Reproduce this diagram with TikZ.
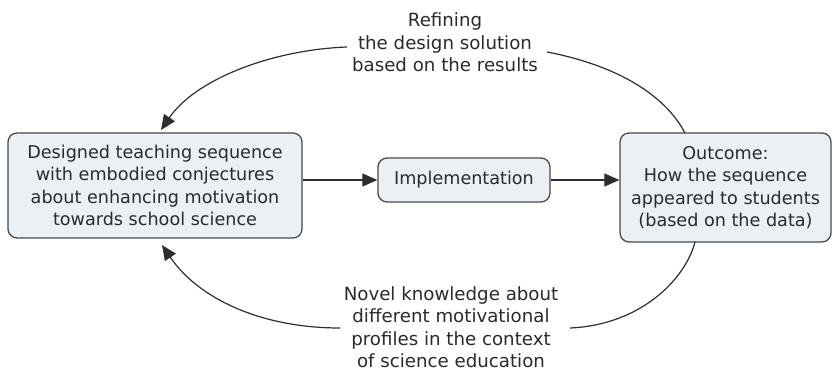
\documentclass[tikz,border=0pt]{standalone}
\usepackage{fontspec}
\setmainfont{DejaVu Sans}
\usetikzlibrary{arrows.meta}
\definecolor{boxfill}{HTML}{EAF0F3}
\definecolor{boxline}{HTML}{4A4A4A}
\definecolor{linecol}{HTML}{2E2E2E}
\definecolor{txtcol}{HTML}{2A2A2A}
\tikzset{
  box/.style={draw=boxline, line width=1.3pt, fill=boxfill, rounded corners=9pt, align=center, inner sep=0pt,
    font=\fontsize{17.6}{22.5}\selectfont, text=txtcol},
  lbl/.style={align=center, inner sep=0pt, font=\fontsize{18.2}{22.5}\selectfont, text=txtcol},
  conn/.style={draw=linecol, line width=1.2pt},
  arr/.style={conn, -{Triangle[length=15pt,width=13pt]}},
}
\begin{document}
\begin{tikzpicture}[x=1pt,y=1pt]
\useasboundingbox (0,0) rectangle (834,371);
\node[box, minimum width=294pt, minimum height=105pt] (L) at (155,185.5) {Designed teaching sequence\\with embodied conjectures\\about enhancing motivation\\towards school science};
\node[box, minimum width=172pt, minimum height=44pt] (I) at (464,191) {Implementation};
\node[box, minimum width=211pt, minimum height=109pt] (R) at (725.5,183.5) {Outcome:\\How the sequence\\appeared to students\\(based on the data)};
\node[lbl] (T) at (445,328.5) {Refining\\the design solution\\based on the results};
\node[lbl] (B) at (451,44) {Novel knowledge about\\different motivational\\profiles in the context\\of science education};
\draw[arr] (L.east |- I.west) -- (I.west);
\draw[arr] (I.east) -- (R.west |- I.east);
\coordinate (t1) at (347,324);
\coordinate (t2) at (547,319);
\coordinate (b1) at (340,43);
\coordinate (b2) at (570,43);
\coordinate (Ltop) at (161,241);
\coordinate (Lbot) at (162,126);
\coordinate (Rtop) at (685,238);
\coordinate (Rbot) at (695,129);
\draw[arr] (t1) .. controls (270,321) and (195,291) .. (Ltop);
\draw[conn] (t2) .. controls (600,309) and (660,285) .. (Rtop);
\draw[arr] (b1) .. controls (260,43) and (198,73) .. (Lbot);
\draw[conn] (b2) .. controls (640,46) and (685,91) .. (Rbot);
\end{tikzpicture}
\end{document}
